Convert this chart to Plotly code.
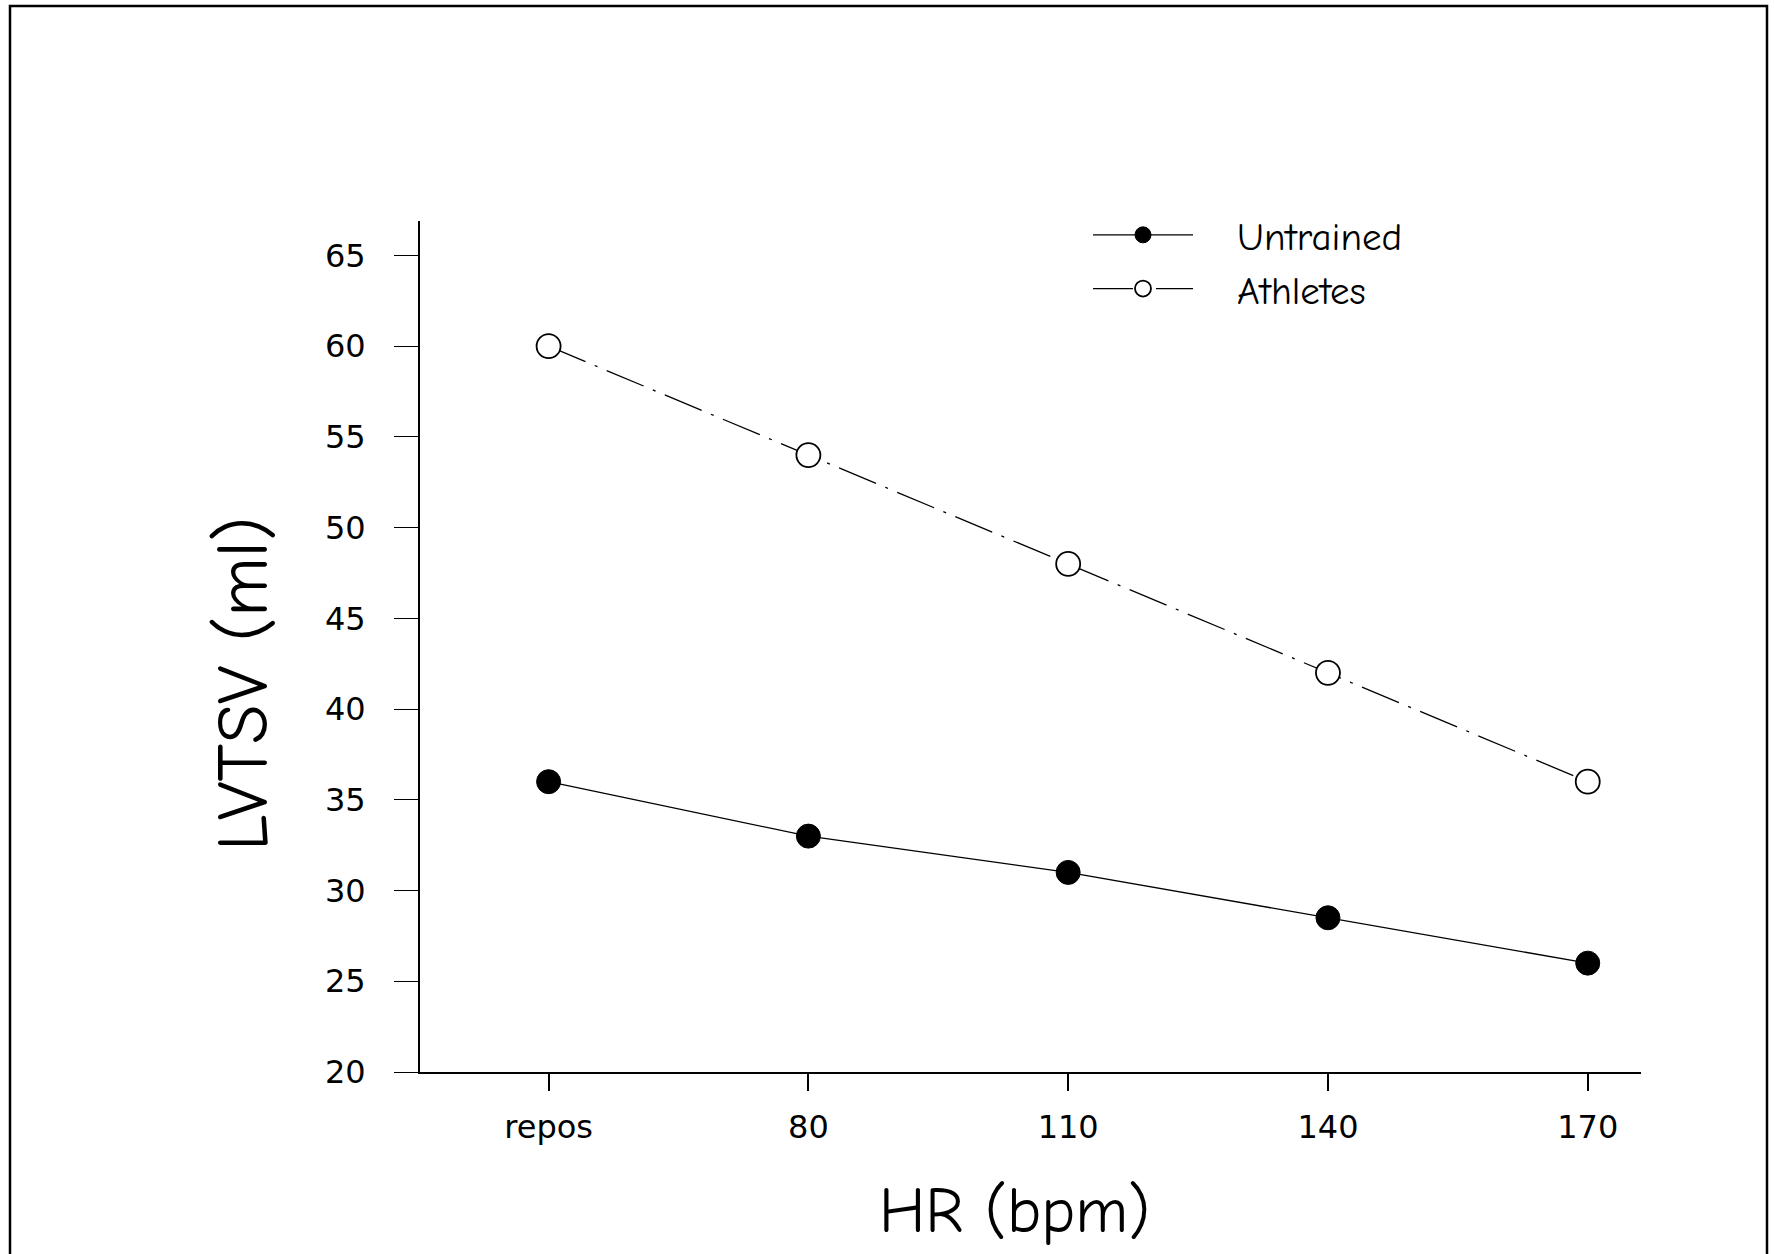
import plotly.graph_objects as go

categories = ["repos", "80", "110", "140", "170"]
untrained = [36, 33, 31, 28.5, 26]
athletes = [60, 54, 48, 42, 36]
y_ticks = [20, 25, 30, 35, 40, 45, 50, 55, 60, 65]

W, H = 1774, 1254
L, R, T, B = 420, 1641, 221, 1072

NB = "\u00a0"

fig = go.Figure()
fig.add_trace(go.Scatter(
    x=categories, y=untrained, name=NB * 3 + "Untrained", mode="lines+markers",
    line=dict(color="black", width=1.3),
    marker=dict(symbol="circle", size=24, color="black",
                line=dict(color="black", width=1)),
))
fig.add_trace(go.Scatter(
    x=categories, y=athletes, name=NB * 3 + "Athletes", mode="lines+markers",
    line=dict(color="black", width=1.3, dash="40px,10px,3px,10px"),
    marker=dict(symbol="circle", size=24, color="white",
                line=dict(color="black", width=1.8)),
))

pw = R - L
ph = B - T
def px_x(p):
    return (p - L) / pw
def px_y(p):
    return (B - p) / ph

fig.add_shape(type="rect", xref="paper", yref="paper",
              x0=px_x(10), x1=px_x(1767), y0=px_y(1300), y1=px_y(6),
              line=dict(color="black", width=2.5), fillcolor="rgba(0,0,0,0)",
              layer="below")

tick_font = dict(family="DejaVu Sans, Liberation Sans, Arial", size=32, color="black")
title_family = "Comic Sans MS, Comic Neue, Noto Sans, DejaVu Sans"

fig.add_annotation(text="LVTSV (ml)", xref="paper", yref="paper",
                   x=px_x(243), y=px_y(684), xanchor="center", yanchor="middle",
                   textangle=-90, showarrow=False,
                   font=dict(family=title_family, size=72, color="black"))
fig.add_annotation(text="HR (bpm)", xref="paper", yref="paper",
                   x=px_x(1014), y=px_y(1211), xanchor="center", yanchor="middle",
                   showarrow=False,
                   font=dict(family=title_family, size=64, color="black"))

fig.update_layout(
    width=W, height=H,
    margin=dict(l=L, r=W - R, t=T, b=H - B, pad=0),
    paper_bgcolor="white", plot_bgcolor="white",
    showlegend=True,
    legend=dict(
        x=px_x(1088), y=px_y(203), xanchor="left", yanchor="top",
        font=dict(family=title_family, size=39, color="black"),
        bgcolor="rgba(0,0,0,0)", borderwidth=0, tracegroupgap=0,
        itemwidth=100,
    ),
    xaxis=dict(
        type="category", categoryorder="array", categoryarray=categories,
        range=[-0.495, 4.205],
        showline=True, linecolor="black", linewidth=2,
        ticks="outside", ticklen=17, tickwidth=2, tickcolor="black",
        showgrid=False, zeroline=False,
        tickfont=tick_font, ticklabelstandoff=9,
    ),
    yaxis=dict(
        range=[20, 66.9], tickmode="array", tickvals=y_ticks,
        showline=True, linecolor="black", linewidth=2,
        ticks="outside", ticklen=24, tickwidth=1.3, tickcolor="black",
        showgrid=False, zeroline=False,
        tickfont=tick_font, ticklabelstandoff=22,
    ),
)

fig.write_html("out.html")
